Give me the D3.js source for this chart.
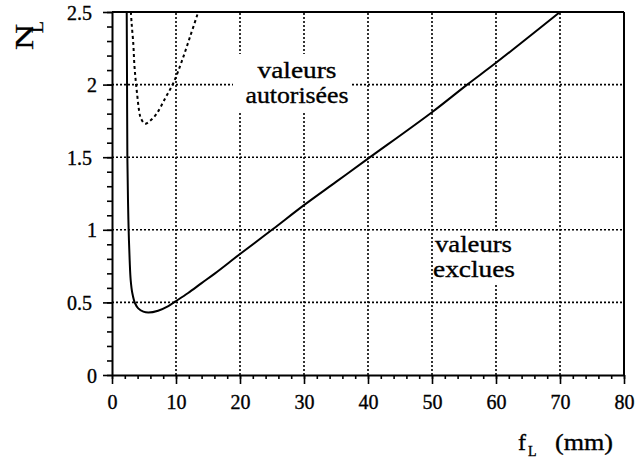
<!DOCTYPE html>
<html>
<head>
<meta charset="utf-8">
<script src="https://cdn.jsdelivr.net/npm/d3@7"></script>
<style>
  html, body { margin: 0; padding: 0; background: #fff; }
  svg { display: block; }
</style>
</head>
<body>
<svg id="chart" width="635" height="459" font-family="Liberation Serif"></svg>
<script>
// Focal length f_L (mm) and the bounding N_L curves
const solidF = [2.3, 2.35, 2.4, 2.5, 2.6, 2.76, 2.92, 3.18, 3.6, 4.1, 4.9, 5.7, 7.2, 8.8, 9.85, 11.9, 14.0, 16.1, 20, 25, 30, 35, 40, 50, 55.5, 60, 70];
const solidN = [2.5, 2.0, 1.5, 1.2, 1.0, 0.79, 0.654, 0.563, 0.494, 0.459, 0.436, 0.43, 0.443, 0.475, 0.505, 0.565, 0.633, 0.70, 0.833, 1.0, 1.17, 1.33, 1.49, 1.81, 2.0, 2.15, 2.5];

const dashF = [2.95, 3.07, 3.33, 3.49, 3.7, 3.96, 4.2, 4.5, 5.16, 5.94, 6.98, 8.3, 9.58, 10.9, 12.2, 13.4];
const dashN = [2.5, 2.42, 2.28, 2.14, 2.03, 1.92, 1.83, 1.77, 1.73, 1.75, 1.80, 1.905, 2.01, 2.16, 2.33, 2.49];

const xTickValues = [0, 10, 20, 30, 40, 50, 60, 70, 80];
const xTickLabels = ["0", "10", "20", "30", "40", "50", "60", "70", "80"];
const yTickValues = [0, 0.5, 1, 1.5, 2, 2.5];
const yTickLabels = ["0", "0.5", "1", "1.5", "2", "2.5"];
const xGridValues = [10, 20, 30, 40, 50, 60, 70];
const yGridValues = [0.5, 1, 1.5, 2];

const SERIF = "Liberation Serif";
const INK = 0.35; // slight stroke to give the glyphs more weight

const svg = d3.select("#chart");
const x = d3.scaleLinear().domain([0, 80]).range([112, 624]);
const y = d3.scaleLinear().domain([0, 2.5]).range([375, 12]);

// dotted grid
const grid = svg.append("g").attr("stroke", "#000").attr("stroke-width", 1.6).attr("stroke-dasharray", "2,2");
grid.selectAll("line.v").data(xGridValues).join("line")
  .attr("x1", d => x(d)).attr("x2", d => x(d))
  .attr("y1", y(0)).attr("y2", y(2.5));
grid.selectAll("line.h").data(yGridValues).join("line")
  .attr("x1", x(0)).attr("x2", x(80))
  .attr("y1", d => y(d)).attr("y2", d => y(d));

// white patches behind the region labels
svg.append("rect").attr("x", 233).attr("y", 54).attr("width", 119).attr("height", 58).attr("fill", "#fff");
svg.append("rect").attr("x", 434).attr("y", 231).attr("width", 86).attr("height", 54).attr("fill", "#fff");

// frame: top and right borders
svg.append("line").attr("x1", x(0)).attr("x2", x(80)).attr("y1", y(2.5)).attr("y2", y(2.5))
  .attr("stroke", "#000").attr("stroke-width", 2.2);
svg.append("line").attr("x1", x(80)).attr("x2", x(80)).attr("y1", y(2.5)).attr("y2", y(0))
  .attr("stroke", "#000").attr("stroke-width", 2);

// axes
function styleAxis(g) {
  g.attr("font-family", SERIF);
  g.select(".domain").attr("stroke-width", 2);
  g.selectAll(".tick line").attr("stroke-width", 1.6);
}
const xMinor = d3.range(0, 81, 2);
const yMinor = d3.range(0, 26).map(i => i / 10);

svg.append("g").attr("transform", `translate(0,${y(0)})`)
  .call(d3.axisBottom(x).tickValues(xMinor).tickSize(4).tickFormat(""))
  .call(g => g.select(".domain").remove())
  .call(styleAxis);
svg.append("g").attr("transform", `translate(${x(0)},0)`)
  .call(d3.axisLeft(y).tickValues(yMinor).tickSize(5).tickFormat(""))
  .call(g => g.select(".domain").remove())
  .call(styleAxis);

const xAxis = svg.append("g").attr("transform", `translate(0,${y(0)})`)
  .call(d3.axisBottom(x).tickValues(xTickValues).tickSize(9).tickSizeOuter(0)
    .tickFormat((d, i) => xTickLabels[i]))
  .call(styleAxis);
xAxis.selectAll(".tick text").attr("font-size", 20).attr("font-family", SERIF)
  .attr("stroke", "#000").attr("stroke-width", INK)
  .attr("y", 20).attr("dy", "0.71em");

const yAxis = svg.append("g").attr("transform", `translate(${x(0)},0)`)
  .call(d3.axisLeft(y).tickValues(yTickValues).tickSize(9).tickSizeOuter(0)
    .tickFormat((d, i) => yTickLabels[i]))
  .call(styleAxis);
yAxis.selectAll(".tick text").attr("font-size", 20).attr("font-family", SERIF)
  .attr("stroke", "#000").attr("stroke-width", INK)
  .attr("x", (d, i) => yTickLabels[i].includes(".") ? -20 : -15)
  .attr("dy", "0.35em");

// curves
const line = d3.line().x(d => x(d[0])).y(d => y(d[1])).curve(d3.curveCatmullRom.alpha(0.5));
svg.append("path").datum(solidF.map((f, i) => [f, solidN[i]]))
  .attr("d", line).attr("fill", "none").attr("stroke", "#000").attr("stroke-width", 2);
svg.append("path").datum(dashF.map((f, i) => [f, dashN[i]]))
  .attr("d", line).attr("fill", "none").attr("stroke", "#000").attr("stroke-width", 2)
  .attr("stroke-dasharray", "3,3");

// region labels
const lbl = svg.append("g").attr("font-size", 24).attr("font-family", SERIF)
  .attr("stroke", "#000").attr("stroke-width", INK);
lbl.append("text").attr("x", 297).attr("y", 78).attr("text-anchor", "middle")
  .attr("textLength", 79).attr("lengthAdjust", "spacingAndGlyphs").text("valeurs");
lbl.append("text").attr("x", 297).attr("y", 103).attr("text-anchor", "middle")
  .attr("textLength", 103).attr("lengthAdjust", "spacingAndGlyphs").text("autorisées");
lbl.append("text").attr("x", 435).attr("y", 252)
  .attr("textLength", 77).attr("lengthAdjust", "spacingAndGlyphs").text("valeurs");
lbl.append("text").attr("x", 433).attr("y", 277)
  .attr("textLength", 82).attr("lengthAdjust", "spacingAndGlyphs").text("exclues");

// axis titles
const xt = svg.append("g").attr("font-family", SERIF).attr("stroke", "#000").attr("stroke-width", INK);
xt.append("text").attr("x", 518).attr("y", 450).attr("font-size", 24).text("f");
xt.append("text").attr("x", 528).attr("y", 456).attr("font-size", 14).text("L");
xt.append("text").attr("x", 555).attr("y", 450).attr("font-size", 24)
  .attr("textLength", 58).attr("lengthAdjust", "spacingAndGlyphs").text("(mm)");

const yt = svg.append("g").attr("font-family", SERIF).attr("stroke", "#000").attr("stroke-width", INK);
yt.append("text").attr("transform", "translate(33,50) rotate(-90)").attr("font-size", 26)
  .attr("textLength", 26).attr("lengthAdjust", "spacingAndGlyphs").text("N");
yt.append("text").attr("transform", "translate(43,33) rotate(-90)").attr("font-size", 16)
  .attr("textLength", 12).attr("lengthAdjust", "spacingAndGlyphs").text("L");
</script>
</body>
</html>
